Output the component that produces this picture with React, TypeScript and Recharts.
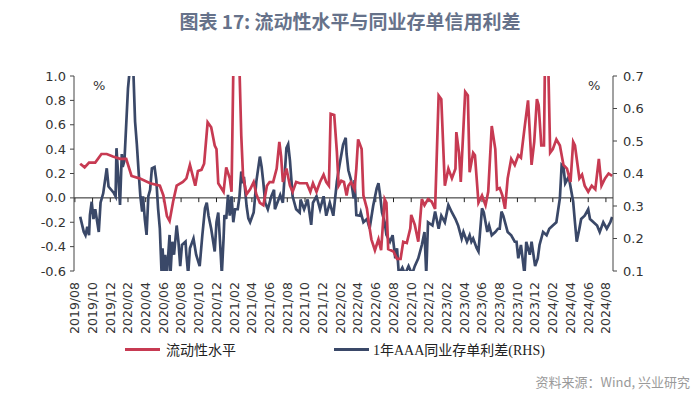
import React from "react";
import {
  LineChart,
  Line,
  XAxis,
  YAxis,
  ReferenceLine,
} from "recharts";

// months since 2019/08 for each reading
const redT = [
  0.6, 1.1, 1.6, 2.3, 3.0, 3.6, 4.3, 5.1, 5.8, 6.4, 7.3, 8.5, 9.6, 10.0, 10.4, 10.7, 11.1, 11.5, 12.2, 12.6,
  13.0, 13.6, 13.9, 14.3, 14.6, 15.0, 15.4, 15.8, 16.0, 16.2, 16.8, 17.1, 17.5, 17.7, 17.9, 18.6, 18.8, 19.0, 19.4, 19.8,
  20.2, 20.5, 20.9, 21.3, 21.7, 22.0, 22.4, 22.8, 23.1, 23.3, 23.5, 23.9, 24.3, 24.6, 25.0, 25.4, 25.8, 26.2, 26.6, 26.9,
  27.3, 27.7, 28.1, 28.4, 28.7, 28.9, 29.3, 29.6, 29.8, 30.1, 30.4, 30.7, 30.9, 31.2, 31.6, 31.8, 32.0, 32.4, 32.6, 33.0,
  33.2, 33.5, 33.9, 34.3, 34.6, 35.0, 35.2, 35.4, 36.0, 36.4, 36.8, 37.1, 37.5, 37.9, 38.0, 38.4, 38.8, 39.2, 39.5, 39.9,
  40.3, 40.7, 41.1, 41.4, 41.8, 42.2, 42.6, 43.0, 43.1, 43.4, 43.6, 44.1, 44.4, 44.6, 45.0, 45.2, 45.6, 46.0, 46.4, 46.7,
  47.1, 47.5, 47.7, 48.0, 48.3, 48.6, 48.9, 49.3, 49.7, 50.1, 50.4, 50.8, 51.2, 51.6, 51.9, 52.2, 52.4, 52.7, 53.0, 53.1,
  53.5, 53.7, 54.0, 54.4, 54.8, 55.2, 55.6, 56.0, 56.3, 56.5, 57.0, 57.3, 57.6, 58.0, 58.4, 58.8, 59.2, 59.5, 59.9, 60.3,
  60.7,
];
const redV = [
  0.28, 0.25, 0.29, 0.29, 0.36, 0.36, 0.34, 0.32, 0.32, 0.18, 0.16, 0.12, 0.1, 0.02, -0.15, -0.19, -0.03, 0.1, 0.13, 0.16,
  0.27, 0.1, 0.22, 0.23, 0.28, 0.62, 0.58, 0.43, 0.4, 0.12, 0.05, 0.25, 0.16, 0.05, 1.05, 1.05, 0.51, 0.18, 0.03, 0.07,
  0.13, 0.03, -0.04, -0.06, 0.1, 0.13, 0.13, 0.24, 0.46, 0.34, 0.13, 0.24, 0.1, 0.05, 0.13, 0.12, 0.12, 0.12, 0.05, 0.12,
  0.05, 0.13, 0.19, 0.13, 0.1, 0.69, 0.68, 0.38, 0.1, 0.14, 0.13, 0.02, 0.1, 0.13, 0.07, 0.24, 0.48, 0.4, 0.02, -0.09,
  -0.2, -0.34, -0.43, -0.34, -0.43, -0.01, -0.04, -0.42, -0.44, -0.5, -0.5, -0.36, -0.37, -0.25, -0.14, -0.22, -0.36, -0.01, -0.06, -0.01,
  -0.03, -0.09, 0.84, 0.81, 0.1, 0.24, 0.16, 0.24, 0.54, 0.37, 0.13, 0.87, 0.84, 0.21, 0.37, 0.35, -0.04, 0.02, -0.06, 0.05,
  0.59, 0.4, 0.07, 0.08, 0.02, -0.09, 0.16, 0.32, 0.27, 0.35, 0.33, 0.57, 0.8, 0.27, 0.46, 0.81, 0.76, 0.43, 0.43, 1.05,
  1.05, 0.37, 0.4, 0.48, 0.43, 0.27, 0.24, 0.13, 0.46, 0.43, 0.16, 0.19, 0.1, 0.05, 0.1, 0.07, 0.32, 0.1, 0.16, 0.2,
  0.18,
];

const blueT = [
  0.6, 1.0, 1.2, 1.4, 1.6, 1.7, 1.9, 2.1, 2.3, 2.7, 2.9, 3.2, 3.6, 3.8, 4.1, 4.4, 4.6, 4.7, 4.9, 5.1,
  5.3, 5.4, 5.6, 6.0, 6.2, 6.6, 6.8, 7.0, 7.2, 7.4, 7.6, 7.7, 7.9, 8.1, 8.3, 8.5, 8.7, 9.0, 9.2, 9.4,
  9.6, 9.8, 9.9, 10.1, 10.2, 10.4, 10.7, 10.8, 11.0, 11.2, 11.5, 11.7, 11.9, 12.1, 12.5, 12.6, 12.8, 13.0, 13.4, 13.7,
  14.1, 14.4, 14.7, 14.9, 15.1, 15.4, 15.8, 16.0, 16.2, 16.4, 16.6, 16.8, 16.9, 17.1, 17.3, 17.5, 17.7, 17.9, 18.1, 18.4,
  18.6, 18.8, 19.0, 19.1, 19.4, 19.6, 19.8, 20.2, 20.3, 20.5, 20.9, 21.1, 21.3, 21.5, 21.8, 22.2, 22.5, 22.6, 23.2, 23.5,
  23.9, 24.1, 24.3, 24.6, 25.0, 25.4, 25.5, 25.9, 26.3, 26.7, 26.9, 27.3, 27.7, 28.1, 28.4, 28.8, 29.2, 29.6, 29.9, 30.3,
  30.6, 30.7, 30.9, 31.2, 31.5, 31.6, 31.8, 32.2, 32.3, 32.6, 33.0, 33.3, 33.7, 34.1, 34.3, 34.5, 34.7, 35.0, 35.2, 35.6,
  35.9, 36.2, 36.4, 36.6, 37.0, 37.3, 37.7, 38.1, 38.4, 38.8, 39.2, 39.5, 39.7, 39.9, 40.4, 40.7, 41.1, 41.4, 41.8, 42.2,
  42.6, 43.0, 43.3, 43.7, 43.9, 44.3, 44.6, 44.8, 45.0, 45.4, 45.6, 46.0, 46.2, 46.6, 46.8, 47.1, 47.5, 47.8, 48.0, 48.2,
  48.4, 48.9, 49.3, 49.7, 49.9, 50.1, 50.4, 50.8, 51.0, 51.4, 51.6, 52.0, 52.3, 52.5, 52.9, 53.3, 53.6, 54.0, 54.4, 54.8,
  55.0, 55.2, 55.4, 55.8, 56.3, 56.5, 56.7, 57.0, 57.2, 57.6, 58.0, 58.2, 58.6, 59.0, 59.3, 59.7, 60.1, 60.5, 60.7,
];
const blueV = [
  0.267, 0.221, 0.21, 0.236, 0.21, 0.272, 0.313, 0.26, 0.29, 0.22, 0.31, 0.339, 0.416, 0.36, 0.35, 0.34, 0.33, 0.478, 0.39, 0.303,
  0.46, 0.42, 0.44, 0.662, 0.72, 0.72, 0.56, 0.49, 0.406, 0.33, 0.283, 0.33, 0.26, 0.211, 0.33, 0.35, 0.416, 0.42, 0.38, 0.293,
  0.23, 0.09, 0.17, 0.09, 0.15, 0.09, 0.211, 0.09, 0.19, 0.15, 0.24, 0.19, 0.115, 0.18, 0.19, 0.15, 0.09, 0.17, 0.2, 0.15,
  0.115, 0.21, 0.293, 0.31, 0.27, 0.23, 0.16, 0.25, 0.28, 0.19, 0.09, 0.2, 0.272, 0.26, 0.334, 0.27, 0.33, 0.25, 0.29, 0.29,
  0.33, 0.406, 0.37, 0.39, 0.3, 0.262, 0.25, 0.28, 0.31, 0.375, 0.452, 0.42, 0.37, 0.31, 0.29, 0.33, 0.35, 0.29, 0.334, 0.31,
  0.478, 0.49, 0.44, 0.33, 0.29, 0.28, 0.32, 0.29, 0.32, 0.242, 0.31, 0.33, 0.29, 0.33, 0.27, 0.31, 0.27, 0.375, 0.426, 0.488,
  0.51, 0.46, 0.41, 0.38, 0.324, 0.38, 0.272, 0.27, 0.28, 0.25, 0.26, 0.231, 0.3, 0.354, 0.37, 0.33, 0.28, 0.25, 0.211, 0.19,
  0.21, 0.139, 0.17, 0.09, 0.11, 0.09, 0.115, 0.09, 0.115, 0.139, 0.18, 0.22, 0.09, 0.25, 0.24, 0.283, 0.23, 0.27, 0.25, 0.303,
  0.28, 0.26, 0.24, 0.2, 0.22, 0.19, 0.21, 0.19, 0.2, 0.17, 0.16, 0.293, 0.28, 0.22, 0.24, 0.21, 0.22, 0.23, 0.23, 0.283,
  0.27, 0.22, 0.21, 0.19, 0.19, 0.139, 0.18, 0.09, 0.19, 0.15, 0.19, 0.115, 0.139, 0.18, 0.22, 0.21, 0.23, 0.24, 0.25, 0.324,
  0.426, 0.42, 0.37, 0.39, 0.313, 0.25, 0.19, 0.23, 0.26, 0.27, 0.29, 0.26, 0.25, 0.24, 0.22, 0.25, 0.23, 0.25, 0.266,
];

const tickLabels = [
  "2019/08", "2019/10", "2019/12", "2020/02", "2020/04", "2020/06", "2020/08", "2020/10", "2020/12",
  "2021/02", "2021/04", "2021/06", "2021/08", "2021/10", "2021/12", "2022/02", "2022/04", "2022/06",
  "2022/08", "2022/10", "2022/12", "2023/02", "2023/04", "2023/06", "2023/08", "2023/10", "2023/12",
  "2024/02", "2024/04", "2024/06", "2024/08",
];
const leftTicks = [-0.6, -0.4, -0.2, 0, 0.2, 0.4, 0.6, 0.8, 1.0];
const rightTicks = [0.1, 0.2, 0.3, 0.4, 0.5, 0.6, 0.7];

const RED = "#c73a52";
const BLUE = "#3a4868";
const AXIS_FONT = "'DejaVu Sans', Verdana, sans-serif";

const redData = redT.map((t, i) => ({ t, v: redV[i] }));
const blueData = blueT.map((t, i) => ({ t, v: blueV[i] }));
const xTicks = tickLabels.map((_, i) => i * 2);

const XTick = ({ x, y, payload }: any) => {
  const ty = y + 11;
  return (
    <text
      x={x}
      y={ty}
      dy="0.35em"
      transform={`rotate(-90 ${x} ${ty})`}
      textAnchor="end"
      fontSize={12.5}
      fontFamily={AXIS_FONT}
      fill="#333"
    >
      {tickLabels[payload.value / 2]}
    </text>
  );
};

export default function App() {
  return (
    <div
      style={{
        position: "absolute",
        left: 0,
        top: 0,
        width: 700,
        height: 408,
        background: "#fff",
        fontFamily: "'Noto Sans CJK SC', sans-serif",
      }}
    >
      <div
        style={{
          position: "absolute",
          top: 7,
          width: 700,
          textAlign: "center",
          fontSize: 19,
          fontWeight: 700,
          color: "#66728a",
        }}
      >
        图表 17: 流动性水平与同业存单信用利差
      </div>

      <LineChart
        width={700}
        height={408}
        margin={{ top: 76, right: 0, bottom: 0, left: 0 }}
      >
        <XAxis
          type="number"
          dataKey="t"
          domain={[-0.1, 60.8]}
          ticks={xTicks}
          interval={0}
          allowDataOverflow
          axisLine={false}
          tickLine={false}
          tickSize={0}
          tickMargin={0}
          height={137}
          tick={<XTick />}
        />
        <YAxis
          yAxisId="left"
          domain={[-0.6, 1.0]}
          ticks={leftTicks}
          allowDataOverflow
          width={74}
          tickFormatter={(v: number) => v.toFixed(1)}
          tick={{ fontSize: 13, fill: "#333", fontFamily: AXIS_FONT }}
          tickSize={4}
          tickMargin={4}
          axisLine={{ stroke: "#444" }}
          tickLine={{ stroke: "#444" }}
        />
        <YAxis
          yAxisId="right"
          orientation="right"
          domain={[0.1, 0.7]}
          ticks={rightTicks}
          allowDataOverflow
          width={87}
          tickFormatter={(v: number) => v.toFixed(1)}
          tick={{ fontSize: 13, fill: "#333", fontFamily: AXIS_FONT }}
          tickSize={4}
          tickMargin={6}
          axisLine={{ stroke: "#444" }}
          tickLine={{ stroke: "#444" }}
        />
        <ReferenceLine yAxisId="left" y={0} stroke="#222" strokeWidth={1} />
        {xTicks.map((t) => (
          <ReferenceLine
            key={t}
            yAxisId="left"
            segment={[{ x: t, y: 0 }, { x: t, y: -0.035 }]}
            stroke="#222"
            strokeWidth={1}
          />
        ))}
        <Line
          yAxisId="right"
          data={blueData}
          dataKey="v"
          type="linear"
          stroke={BLUE}
          strokeWidth={2.7}
          dot={false}
          isAnimationActive={false}
        />
        <Line
          yAxisId="left"
          data={redData}
          dataKey="v"
          type="linear"
          stroke={RED}
          strokeWidth={2.7}
          dot={false}
          isAnimationActive={false}
        />
      </LineChart>

      <div style={{ position: "absolute", left: 93, top: 78, fontSize: 13, fontFamily: AXIS_FONT, color: "#333" }}>%</div>
      <div style={{ position: "absolute", left: 588, top: 78, fontSize: 13, fontFamily: AXIS_FONT, color: "#333" }}>%</div>

      <div
        style={{
          position: "absolute",
          top: 339,
          left: 125,
          display: "flex",
          alignItems: "center",
          fontSize: 14,
          fontFamily: "'Liberation Serif', 'Noto Sans CJK SC', serif",
          color: "#222",
        }}
      >
        <span style={{ display: "inline-block", width: 35, height: 3, background: RED, marginRight: 6 }} />
        <span>流动性水平</span>
        <span style={{ display: "inline-block", width: 35, height: 3, background: BLUE, marginLeft: 98, marginRight: 4 }} />
        <span>1年AAA同业存单利差(RHS)</span>
      </div>

      <div
        style={{
          position: "absolute",
          top: 372,
          right: 10,
          fontSize: 13,
          color: "#9a9a9a",
        }}
      >
        资料来源：Wind, 兴业研究
      </div>
    </div>
  );
}
